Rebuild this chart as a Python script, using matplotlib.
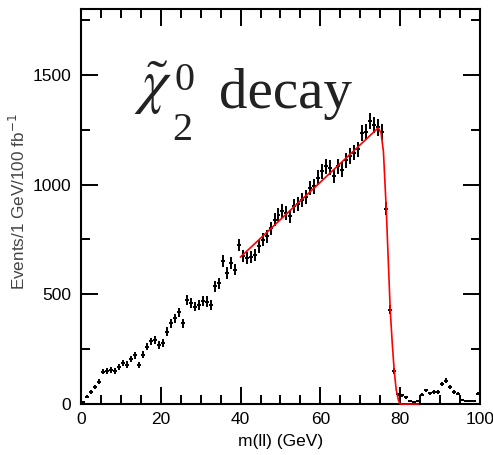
import numpy as np
import matplotlib
matplotlib.use("Agg")
import matplotlib.pyplot as plt
from matplotlib.ticker import MultipleLocator

# m(ll) spectrum in 1 GeV bins, events per 100 fb^-1
mll = np.arange(0.5, 100, 1.0)
events = [11, 33, 56, 76, 102, 148, 152, 155, 150, 170,
          185, 180, 205, 222, 178, 225, 262, 285, 290, 270,
          280, 330, 368, 391, 418, 368, 475, 460, 444, 450,
          470, 467, 452, 536, 551, 650, 597, 642, 612, 726,
          673, 665, 670, 680, 718, 749, 764, 800, 840, 863,
          878, 871, 855, 901, 912, 930, 945, 985, 992, 1031,
          1061, 1084, 1076, 1038, 1084, 1068, 1110, 1129, 1145, 1160,
          1236, 1240, 1289, 1270, 1260, 1240, 890, 430, 152, 45,
          40, 30, 12, 8, 15, 42, 62, 50, 56, 55,
          92, 106, 78, 56, 48, 20, 14, 16, 12, 48]
errors = [3, 6, 8, 9, 11, 13, 13, 13, 13, 14,
          14, 14, 15, 16, 14, 16, 17, 18, 18, 18,
          18, 19, 20, 21, 21, 20, 23, 22, 22, 22,
          23, 23, 22, 24, 25, 27, 26, 27, 26, 28,
          27, 27, 27, 27, 28, 29, 29, 30, 30, 31,
          31, 31, 31, 31, 32, 32, 32, 33, 33, 33,
          34, 34, 34, 33, 34, 34, 35, 35, 35, 35,
          36, 36, 37, 37, 37, 36, 31, 22, 13, 7,
          7, 6, 4, 3, 4, 7, 8, 7, 8, 8,
          10, 11, 9, 8, 7, 5, 4, 4, 4, 7]

# edge fit (linear rise + smeared endpoint)
fit_m = [40, 74.5, 75.2, 75.8, 76.5, 77.0, 77.5, 78.0, 78.5, 79.0, 79.6, 80.0, 84.5]
fit_events = [670, 1258, 1235, 1150, 890, 660, 430, 280, 152, 65, 15, 0, 0]

W, H = 493, 455
fig = plt.figure(figsize=(W / 100, H / 100), dpi=100)
ax = fig.add_axes([0.1643, 0.112, 0.8093, 0.8685])


def px(x, y):
    """pixel position (from top-left) -> figure fraction"""
    return x / W, 1 - y / H


ax.errorbar(mll, events, yerr=errors, xerr=0.5, fmt="none", ecolor="k",
            elinewidth=1.4, capsize=0, zorder=2)
ax.plot(fit_m, fit_events, color="red", lw=1.2, zorder=3, clip_on=False)

ax.set_xlim(0, 100)
ax.set_ylim(0, 1800)
ax.xaxis.set_major_locator(MultipleLocator(20))
ax.xaxis.set_minor_locator(MultipleLocator(5))
ax.yaxis.set_major_locator(MultipleLocator(500))
ax.yaxis.set_minor_locator(MultipleLocator(250))
ax.tick_params(which="both", direction="in", top=True, right=True,
               width=1.4, labelsize=12.5)
ax.tick_params(which="major", length=12)
ax.tick_params(which="minor", length=6.5)
ax.tick_params(axis="x", pad=6)
ax.tick_params(axis="y", pad=7)
for lab in ax.get_xticklabels() + ax.get_yticklabels():
    lab.set_family("Liberation Sans")
for s in ax.spines.values():
    s.set_linewidth(1.5)

ax.set_xlabel("m(ll) (GeV)", family="Liberation Sans", fontsize=12.5,
              labelpad=5)
ax.set_ylabel(r"Events/1 GeV/100 fb$^{-1}$", family="Liberation Sans",
              fontsize=12.3, color="#444444", math_fontfamily="dejavusans")
ax.yaxis.set_label_coords(-0.133, 0.513)

# chi~_2^0 decay, set piece by piece
serif = dict(family="Liberation Serif", color="#222222", va="baseline",
             ha="left")
fig.text(*px(134, 102), r"$\tilde{\chi}$", fontsize=43,
         math_fontfamily="stix", **serif)
fig.text(*px(174, 90), "0", fontsize=29, **serif)
fig.text(*px(172, 140), "2", fontsize=29, **serif)
fig.text(*px(219, 108), "decay", fontsize=41, **serif)

fig.savefig("out.png", dpi=100)
